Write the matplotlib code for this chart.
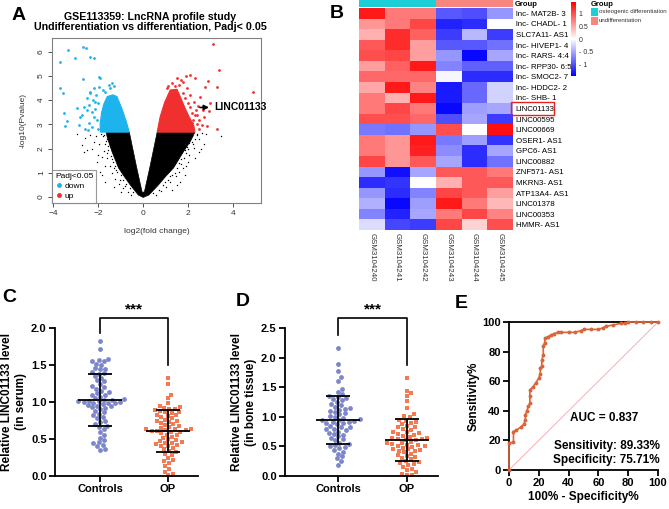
import numpy as np
import matplotlib
matplotlib.use("Agg")
import matplotlib.pyplot as plt
from matplotlib.colors import LinearSegmentedColormap, ListedColormap
from matplotlib.patches import Rectangle
from matplotlib.lines import Line2D

plt.rcParams['font.family'] = ['Liberation Sans', 'DejaVu Sans']

# ---------------- data ----------------
# A: volcano plot (dense cores as outlines + sparse points)
black_core_x = [0.0, -0.22, -0.58, -0.85, -1.1, -1.39, -1.6, -1.65, -0.62, -0.3, -0.05,
                0.05, 0.3, 0.62, 2.3, 2.1, 1.79, 1.35, 1.0, 0.68, 0.25, 0.0]
black_core_y = [-0.02, 0.08, 0.5, 0.85, 1.2, 1.87, 2.45, 2.68, 2.68, 1.25, 0.2,
                0.2, 1.25, 2.68, 2.68, 2.3, 1.87, 1.2, 0.85, 0.5, 0.08, -0.02]
black_x = [-2.95, -2.73, -2.65, -2.21, -1.91, -1.84, -2.06, -2.36, -1.69, -2.50, -1.8, -1.95,
           -1.75, -1.6, -1.5, -1.4, -1.25, -1.1, -0.9, -0.7, -2.1, -1.85, -1.7, -2.3, -1.55,
           -1.3, -1.0, -2.0, -1.65, -2.6, -1.2, -0.55,
           -1.75, -1.7, -1.55, -1.45, -1.35, -1.25, -1.15, -1.0, -0.9, -0.75, -0.6, -0.45,
           -1.9, -1.6, -1.5, -1.62, -1.4, -1.3, -1.05, -0.8,
           3.45, 2.46, 2.24, 2.01, 1.87, 1.64, 2.39, 2.61, 2.16, 1.79, 1.5, 2.5, 2.8, 2.3,
           2.05, 1.9, 1.6, 1.45, 1.2, 1.0, 0.8, 2.7, 2.0, 1.95, 1.7, 1.3, 0.55, 2.55,
           2.4, 2.3, 2.2, 2.0, 1.9, 1.8, 1.6, 1.5, 1.4, 1.2, 1.1, 0.9, 0.7, 0.45,
           2.15, 2.05, 1.85, 1.7, 1.3, 0.95]
black_y = [2.60, 2.15, 1.87, 2.29, 1.05, 0.91, 1.46, 2.56, 0.63, 1.94, 2.5, 2.2,
           1.9, 1.6, 1.3, 1.0, 0.75, 0.55, 0.35, 0.2, 2.5, 1.65, 1.3, 2.0, 2.1,
           0.4, 0.2, 1.75, 2.3, 2.45, 1.1, 0.1,
           2.55, 2.2, 1.95, 1.7, 1.45, 1.3, 1.05, 0.9, 0.7, 0.55, 0.35, 0.2,
           2.6, 2.4, 2.2, 1.8, 1.55, 1.2, 0.7, 0.45,
           2.53, 1.87, 2.01, 1.46, 0.91, 0.63, 2.56, 2.63, 2.29, 1.19, 0.5, 2.4, 2.6, 1.6,
           1.75, 1.3, 1.05, 0.85, 0.6, 0.4, 0.25, 2.2, 2.5, 2.05, 1.55, 0.3, 0.1, 2.0,
           2.6, 2.4, 2.2, 2.0, 1.8, 1.6, 1.4, 1.2, 1.0, 0.85, 0.7, 0.5, 0.3, 0.15,
           2.5, 2.25, 1.95, 1.35, 0.9, 0.62]
down_core_x = [-0.62, -0.75, -0.95, -1.17, -1.35, -1.6, -1.75, -1.85, -1.92, -1.9]
down_core_y = [2.68, 3.1, 3.65, 4.15, 4.22, 4.15, 3.85, 3.5, 3.0, 2.68]
down_x = [-3.36, -2.70, -2.53, -3.72, -3.02, -2.36, -2.21, -1.99, -1.91, -2.68, -3.69, -3.59,
          -1.54, -1.39, -3.54, -3.39, -3.47, -2.95, -2.65, -2.87, -2.50, -2.36, -2.73, -2.43,
          -2.13, -2.28, -2.0, -2.2, -2.3, -2.1, -1.8, -1.5, -2.5, -2.6, -2.4, -2.0, -2.2,
          -1.3, -2.05, -2.15, -1.95, -2.35, -1.7, -2.8, -2.45, -2.25]
down_y = [6.07, 6.21, 6.14, 5.59, 5.76, 5.80, 5.76, 4.97, 4.90, 4.86, 4.49, 4.28,
          4.63, 4.70, 3.48, 3.14, 2.95, 3.66, 3.73, 2.97, 4.08, 4.35, 3.39, 3.04,
          3.94, 3.52, 3.9, 3.3, 2.9, 4.2, 4.4, 4.5, 3.6, 2.8, 3.8, 2.8, 4.5,
          4.6, 3.2, 3.65, 4.55, 4.3, 4.35, 3.3, 2.75, 4.0]
up_core_x = [0.62, 0.75, 0.95, 1.2, 1.5, 1.62, 1.87, 2.05, 2.25, 2.3]
up_core_y = [2.68, 3.3, 3.9, 4.42, 4.45, 4.2, 3.65, 3.3, 2.95, 2.68]
up_x = [3.10, 3.39, 4.90, 2.90, 2.76, 3.30, 2.31, 2.09, 1.91, 1.50, 1.67, 1.79, 2.53, 2.98,
        2.92, 2.65, 3.27, 2.83, 2.61, 2.46, 2.06, 2.24, 2.39, 2.16, 1.94, 1.57,
        2.4, 2.3, 2.1, 2.0, 1.75, 1.4, 1.1, 2.2, 2.5, 2.35, 1.3, 1.85, 2.7, 2.45, 2.15, 1.05]
up_y = [6.31, 5.25, 4.35, 4.79, 4.56, 4.56, 4.93, 5.04, 5.01, 4.93, 4.83, 4.74, 4.15, 3.87,
        3.55, 3.60, 2.81, 2.95, 2.98, 3.18, 4.21, 3.94, 3.39, 3.04, 4.49, 4.63,
        3.0, 3.4, 3.7, 3.9, 4.3, 4.6, 4.6, 3.2, 2.8, 3.6, 4.7, 4.1, 3.3, 3.75, 3.45, 4.5]

# B: heatmap
row_names = ['lnc- MAT2B- 3', 'lnc- CHADL- 1', 'SLC7A11- AS1', 'lnc- HIVEP1- 4', 'lnc- RARS- 4:4',
             'lnc- RPP30- 6:5', 'lnc- SMOC2- 7', 'lnc- HDDC2- 2', 'lnc- SHB- 1', 'LINC01133',
             'LINC00595', 'LINC00669', 'OSER1- AS1', 'GPC6- AS1', 'LINC00882', 'ZNF571- AS1',
             'MKRN3- AS1', 'ATP13A4- AS1', 'LINC01378', 'LINC00353', 'HMMR- AS1']
samples = ['GSM3104240', 'GSM3104241', 'GSM3104242', 'GSM3104243', 'GSM3104244', 'GSM3104245']
sample_group = [0, 0, 0, 1, 1, 1]
group_names = ['osteogenic differentiation', 'undifferentiation']
heat = [
    [1.3, 0.75, 0.75, -0.95, -1.0, -0.6],
    [0.6, 0.75, 1.05, -1.25, -1.2, 0.0],
    [0.45, 1.2, 0.9, -1.1, -0.4, -1.1],
    [0.95, 1.2, 0.55, -0.95, -0.95, -0.8],
    [1.0, 1.05, 0.55, -0.6, -1.4, -0.5],
    [0.55, 0.9, 1.3, -0.7, -0.9, -0.9],
    [0.85, 0.85, 0.85, -0.05, -1.2, -1.2],
    [0.5, 1.3, 0.7, -1.3, -0.85, -0.25],
    [0.75, 0.45, 1.3, -1.3, -0.85, -0.25],
    [0.75, 1.05, 0.75, -1.4, -0.55, -0.5],
    [1.0, 1.0, 0.85, -1.0, -0.5, -1.1],
    [-0.75, -0.8, -0.6, 1.0, 0.0, 1.35],
    [0.75, 0.6, 1.3, -0.75, -0.55, -1.15],
    [0.75, 0.6, 1.25, -0.65, -1.2, -0.5],
    [1.05, 0.6, 0.95, -0.5, -1.2, -0.8],
    [-0.6, -1.35, -0.5, 0.95, 0.95, 0.75],
    [-1.2, -1.15, 0.0, 0.45, 0.95, 0.95],
    [-0.6, -1.2, -0.7, 1.05, 0.95, 0.55],
    [-0.45, -1.4, -0.55, 1.3, 0.75, 0.4],
    [-0.7, -1.25, -0.5, 0.75, 1.05, 0.7],
    [-0.2, -1.05, -1.1, 1.05, 0.25, 1.0],
]

# C: serum
serum_ctrl = [1.82, 1.72, 1.58, 1.57, 1.56, 1.55, 1.52, 1.50, 1.46, 1.45,
              1.44, 1.40, 1.39, 1.38, 1.35, 1.33, 1.30, 1.28, 1.25, 1.22,
              1.20, 1.18, 1.15, 1.13, 1.12, 1.10, 1.09, 1.07, 1.05, 1.04,
              1.03, 1.03, 1.02, 1.02, 1.01, 1.00, 1.00, 0.99, 0.99, 0.98,
              0.97, 0.96, 0.95, 0.94, 0.93, 0.92, 0.90, 0.88, 0.86, 0.84,
              0.82, 0.80, 0.78, 0.75, 0.73, 0.70, 0.68, 0.66, 0.63, 0.60,
              0.56, 0.52, 0.48, 0.46, 0.44, 0.42, 0.40, 0.37, 0.35]
serum_op = [1.32, 1.25, 1.10, 1.05, 0.98, 0.95, 0.93, 0.92, 0.91, 0.90, 0.89, 0.88, 0.87,
            0.86, 0.85, 0.83, 0.82, 0.81, 0.80, 0.78, 0.76, 0.75, 0.74, 0.73,
            0.72, 0.70, 0.69, 0.67, 0.66, 0.65, 0.64, 0.63, 0.63, 0.62,
            0.62, 0.61, 0.61, 0.60, 0.60, 0.58, 0.56, 0.55, 0.53, 0.52,
            0.50, 0.48, 0.47, 0.46, 0.45, 0.44, 0.43, 0.42, 0.41, 0.40,
            0.38, 0.36, 0.34, 0.32, 0.30, 0.28, 0.25, 0.22, 0.20, 0.18,
            0.14, 0.10, 0.06, 0.03, 0.01]

# D: bone tissue
bone_ctrl = [2.17, 1.89, 1.77, 1.67, 1.60, 1.47, 1.42, 1.38, 1.35, 1.34,
             1.32, 1.30, 1.28, 1.25, 1.22, 1.20, 1.17, 1.15, 1.14, 1.12,
             1.10, 1.08, 1.06, 1.04, 1.02, 1.00, 0.98, 0.96, 0.95, 0.94,
             0.93, 0.92, 0.91, 0.90, 0.89, 0.87, 0.85, 0.83, 0.82, 0.80,
             0.79, 0.77, 0.75, 0.73, 0.71, 0.70, 0.67, 0.64, 0.62, 0.60,
             0.56, 0.54, 0.52, 0.50, 0.49, 0.47, 0.44, 0.41, 0.38, 0.33,
             0.30, 0.25, 0.18]
bone_op = [1.66, 1.44, 1.40, 1.35, 1.27, 1.15, 1.05, 1.01, 0.99, 0.95,
           0.93, 0.92, 0.90, 0.88, 0.85, 0.83, 0.82, 0.80, 0.78, 0.75,
           0.74, 0.72, 0.71, 0.70, 0.68, 0.66, 0.65, 0.64, 0.63, 0.62,
           0.61, 0.60, 0.58, 0.56, 0.55, 0.54, 0.53, 0.52, 0.51, 0.50,
           0.49, 0.48, 0.46, 0.45, 0.44, 0.43, 0.42, 0.40, 0.38, 0.35,
           0.33, 0.32, 0.30, 0.28, 0.25, 0.23, 0.22, 0.20, 0.18, 0.15,
           0.12, 0.10, 0.07, 0.04, 0.02, 0.01]
groups = ['Controls', 'OP']

# E: ROC
roc_fpr = [0, 0, 3, 3, 5, 8, 10, 11, 11, 12, 13, 14, 14, 14, 16, 18, 20, 21, 21, 22, 22, 23,
           23, 24, 24, 26, 28, 30, 33, 35, 40, 44, 48, 50, 55, 60, 63, 65, 70, 75, 78, 80,
           85, 90, 95, 100]
roc_tpr = [0, 18, 19, 26, 27, 29, 31, 34, 37, 40, 43, 45, 50, 54, 56, 59, 62, 65, 69, 70, 74,
           78, 84, 86, 89, 90, 91, 92, 93, 93, 93, 93, 94, 95, 95, 95, 96, 97, 98, 99, 99,
           100, 100, 100, 100, 100]

# ---------------- figure ----------------
W, H = 669, 509
fig = plt.figure(figsize=(W / 100, H / 100), dpi=100)


def px_axes(l, t, r, b):
    return fig.add_axes([l / W, 1 - b / H, (r - l) / W, (b - t) / H])


def panel_label(x, y, s):
    fig.text(x / W, 1 - y / H, s, fontsize=14, fontweight='bold', ha='left', va='center')


blue_c = '#1DB4EE'
red_c = '#F0302E'
gray = '#808080'

# ---- A: volcano ----
ax = px_axes(52, 38, 261, 203)
ax.fill(black_core_x, black_core_y, color='black', lw=0.5)
ax.scatter(black_x, black_y, s=1.0, c='black', lw=0)
ax.fill(down_core_x, down_core_y, color=blue_c, lw=0.8)
ax.scatter(down_x, down_y, s=4, c=blue_c, lw=0)
ax.fill(up_core_x, up_core_y, color=red_c, lw=0.8)
ax.scatter(up_x, up_y, s=4, c=red_c, lw=0)
ax.set_xlim(-4.06, 5.24)
ax.set_ylim(-0.25, 6.57)
ax.set_xticks([-4, -2, 0, 2, 4])
ax.set_yticks(range(7))
ax.set_yticklabels([str(v) for v in range(7)], rotation=90, va='center')
ax.tick_params(labelsize=6, colors='#333333', length=3, width=0.6, pad=2)
for s in ax.spines.values():
    s.set_color(gray)
    s.set_linewidth(0.8)
ax.set_xlabel('log2(fold change)', fontsize=6, color='#333333', labelpad=8)
ax.set_ylabel('-log10(Pvalue)', fontsize=6, color='#333333', labelpad=8)
ax.annotate('', xy=(3.05, 3.7), xytext=(2.4, 3.7),
            arrowprops=dict(arrowstyle='-|>', color='black', lw=1.2, mutation_scale=7))
ax.text(3.15, 3.7, 'LINC01133', fontsize=7.5, fontweight='bold', va='center', ha='left')
handles = [Line2D([], [], ls='', marker='o', ms=2.5, color=blue_c),
           Line2D([], [], ls='', marker='o', ms=2.5, color=red_c)]
leg = ax.legend(handles, ['down', 'up'], title='Padj<0.05', loc='lower left', fontsize=6,
                title_fontsize=6, fancybox=False, edgecolor=gray, borderaxespad=0,
                handletextpad=0.2, borderpad=0.35, labelspacing=0.25, handlelength=1)
leg.get_frame().set_linewidth(0.8)
leg._legend_box.align = 'left'
fig.text(150 / W, 1 - 22 / H,
         'GSE113359: LncRNA profile study\nUndifferentiation vs differentiation, Padj< 0.05',
         fontsize=7.7, fontweight='bold', ha='center', va='center', linespacing=1.05)
panel_label(12, 15, 'A')

# ---- B: heatmap ----
cmap = LinearSegmentedColormap.from_list('bwr_p', ['#0000FF', '#FFFFFF', '#FF0000'])
hax = px_axes(359, 8, 513, 230)
im = hax.imshow(np.array(heat), cmap=cmap, vmin=-1.45, vmax=1.45, aspect='auto',
                interpolation='nearest')
hax.yaxis.tick_right()
hax.set_yticks(range(len(row_names)))
hax.set_yticklabels(row_names, fontsize=5.7)
hax.set_xticks(range(len(samples)))
hax.set_xticklabels(samples, fontsize=5.7, rotation=270, color='#333333')
hax.tick_params(length=0, pad=2)
for s in hax.spines.values():
    s.set_visible(False)
fig.patches.append(Rectangle((511 / W, 1 - 114.5 / H), 43 / W, 12 / H, transform=fig.transFigure,
                             fill=False, ec='#E8201E', lw=1))

grp_colors = ['#1CCFD6', '#F7877E']
gax = px_axes(359, 0, 513, 7)
gax.imshow([sample_group], cmap=ListedColormap(grp_colors), vmin=0, vmax=1, aspect='auto',
           interpolation='nearest')
gax.axis('off')
fig.text(515 / W, 1 - 4 / H, 'Group', fontsize=5.5, fontweight='bold', va='center')

cax = px_axes(571, 2, 576, 76)
cb = fig.colorbar(im, cax=cax, ticks=[-1, -0.5, 0, 0.5, 1])
cb.outline.set_visible(False)
cb.ax.set_yticklabels(['- 1', '- 0.5', '0', '0.5', '1'])
cb.ax.tick_params(length=0, labelsize=5, pad=2, colors='#333333')

fig.text(591 / W, 1 - 4 / H, 'Group', fontsize=5.5, fontweight='bold', va='center')
for i, (gname, gcol) in enumerate(zip(group_names, grp_colors)):
    ytop = 8 + i * 9
    fig.patches.append(Rectangle((591 / W, 1 - (ytop + 8) / H), 7 / W, 8 / H,
                                 transform=fig.transFigure, color=gcol, lw=0))
    fig.text(599 / W, 1 - (ytop + 4) / H, gname, fontsize=4.4, va='center', color='#333333')
panel_label(330, 13, 'B')


# ---- C / D: dot plots ----
def swarm_offsets(vals, ppu_x, ppu_y, diam):
    vals = np.asarray(vals)
    xs = np.zeros(len(vals))
    placed = []
    step = diam * 0.3
    cands = [0.0]
    for k in range(1, 100):
        cands += [k * step, -k * step]
    for i in np.argsort(vals):
        y = vals[i] * ppu_y
        for c in cands:
            if all((c - px) ** 2 + (y - py) ** 2 >= diam ** 2 for px, py in placed):
                xs[i] = c
                break
        placed.append((xs[i], y))
    return xs / ppu_x


ctrl_col = '#7C86CA'
op_col = '#F27A55'


def dot_panel(box, ctrl, op, ymax, ylabel, xlim, br):
    l, t, r, b = box
    ax = px_axes(l, t, r, b)
    ppu_x = (r - l) / (xlim[1] - xlim[0])
    ppu_y = (b - t) / ymax
    for k, (vals, col, mk) in enumerate([(ctrl, ctrl_col, 'o'), (op, op_col, 's')]):
        off = swarm_offsets(vals, ppu_x, ppu_y, 4.5)
        ax.scatter(k + off, vals, s=12 if mk == 'o' else 10, marker=mk, c=col, lw=0,
                   clip_on=False, zorder=2)
        m, sd = np.mean(vals), np.std(vals, ddof=1)
        ax.hlines(m, k - 0.32, k + 0.32, color='black', lw=1.3, zorder=3)
        ax.hlines([m - sd, m + sd], k - 0.17, k + 0.17, color='black', lw=1.3, zorder=3)
        ax.vlines(k, m - sd, m + sd, color='black', lw=1.3, zorder=3)
    ax.set_xlim(*xlim)
    ax.set_ylim(0, ymax)
    ax.set_yticks(np.arange(0, ymax + 0.01, 0.5))
    ax.set_yticklabels(['%.1f' % v for v in np.arange(0, ymax + 0.01, 0.5)])
    ax.set_xticks([0, 1])
    ax.set_xticklabels(groups)
    for s in ['top', 'right']:
        ax.spines[s].set_visible(False)
    for s in ['left', 'bottom']:
        ax.spines[s].set_linewidth(1.3)
    ax.tick_params(length=4, width=1.3, labelsize=8, pad=2)
    for lab in ax.get_xticklabels() + ax.get_yticklabels():
        lab.set_fontweight('bold')
    ax.set_ylabel(ylabel, fontsize=8.5, fontweight='bold', labelpad=3)
    y0, ytop, y1, ystar = br
    ax.plot([0, 0, 1, 1], [y0, ytop, ytop, y1], color='black', lw=1.2, clip_on=False)
    ax.text(0.5, ystar, '***', fontsize=11, fontweight='bold', ha='center', va='center')
    return ax


dot_panel((55, 328, 198, 476), serum_ctrl, serum_op, 2.0,
          'Relative LINC01133 level\n(in serum)', (-0.66, 1.44), (1.93, 2.13, 1.50, 2.25))
panel_label(2, 297, 'C')
dot_panel((285, 328, 438, 476), bone_ctrl, bone_op, 2.5,
          'Relative LINC01133 level\n(in bone tissue)', (-0.77, 1.45), (2.39, 2.67, 1.88, 2.82))
panel_label(236, 301, 'D')

# ---- E: ROC ----
ax = px_axes(509, 322, 658, 470)
ax.plot([0, 100], [0, 100], color='#F4A5A5', lw=0.6)
ax.plot(roc_fpr, roc_tpr, color='#D9653B', lw=1.2, marker='o', ms=1.8, clip_on=False, zorder=3)
ax.set_xlim(0, 100)
ax.set_ylim(0, 100)
ax.set_xticks(range(0, 101, 20))
ax.set_yticks(range(0, 101, 20))
ax.spines['right'].set_visible(False)
for s in ['left', 'bottom', 'top']:
    ax.spines[s].set_linewidth(1.3)
ax.tick_params(length=4, width=1.3, labelsize=8, pad=2)
for lab in ax.get_xticklabels() + ax.get_yticklabels():
    lab.set_fontweight('bold')
ax.set_xlabel('100% - Specificity%', fontsize=8.5, fontweight='bold', labelpad=2)
ax.set_ylabel('Sensitivity%', fontsize=8.5, fontweight='bold', labelpad=2)
ax.text(41, 35, 'AUC = 0.837', fontsize=8.5, fontweight='bold', va='center')
ax.text(101, 16.5, 'Sensitivity: 89.33%', fontsize=8.5, fontweight='bold', va='center', ha='right')
ax.text(101, 6.5, 'Specificity: 75.71%', fontsize=8.5, fontweight='bold', va='center', ha='right')
panel_label(455, 304, 'E')

fig.savefig('out.png', dpi=100)
